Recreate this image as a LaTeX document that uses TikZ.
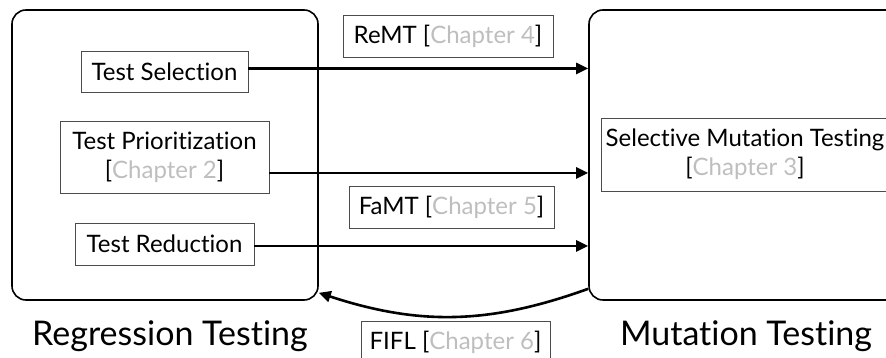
\documentclass[tikz,border=0pt]{standalone}
\usepackage{fontspec}
\setmainfont{Lato}[Ligatures=NoCommon]
\usetikzlibrary{arrows.meta}
\definecolor{chapgray}{RGB}{190,190,190}
\newcommand{\chap}[1]{[\textcolor{chapgray}{Chapter #1}]}

\begin{document}
\begin{tikzpicture}[x=1pt,y=1pt,
    area/.style={draw, line width=1.6pt, rounded corners=14pt},
    item/.style={draw=black!70, line width=0.8pt, inner sep=1pt, align=center,
      font=\fontsize{24}{29}\selectfont},
    title/.style={font=\fontsize{34}{40}\selectfont},
    flow/.style={-{Triangle[length=12pt,width=11pt]}, line width=2.6pt}]
  \clip (0,0) rectangle (886,358);

  \node[area, minimum width=306, minimum height=290] (rt) at (165,203) {};
  \node[area, minimum width=320, minimum height=290] (mt) at (749,203) {};

  \node[item, minimum width=167, minimum height=41] (sel) at (164.5,286.5) {Test Selection};
  \node[item, minimum width=209, minimum height=72] (pri) at (164.5,201) {Test Prioritization\\\chap{2}};
  \node[item, minimum width=179, minimum height=42] (red) at (164.5,114) {Test Reduction};
  \node[item, minimum width=288, minimum height=73] (smt) at (745,203.5) {Selective Mutation Testing\\\chap{3}};

  \node[item, minimum width=210, minimum height=42] (remt) at (448,322) {ReMT \chap{4}};
  \node[item, minimum width=205, minimum height=42] (famt) at (451.5,151) {FaMT \chap{5}};
  \node[item, minimum width=189, minimum height=42] (fifl) at (455.5,16) {FIFL \chap{6}};

  \node[title] (rtname) at (170,22) {Regression Testing};
  \node[title] (mtname) at (746,22) {Mutation Testing};

  \draw[flow] ([yshift=3]sel.east) -- ([yshift=3]sel.east -| mt.west);
  \draw[flow] ([yshift=-16]pri.east) -- ([yshift=-16]pri.east -| mt.west);
  \draw[flow] ([yshift=-2]red.east) -- ([yshift=-2]red.east -| mt.west);
  \draw[flow] ([yshift=12]mt.south west) to[bend left=19] ([yshift=8]rt.south east);
\end{tikzpicture}
\end{document}
